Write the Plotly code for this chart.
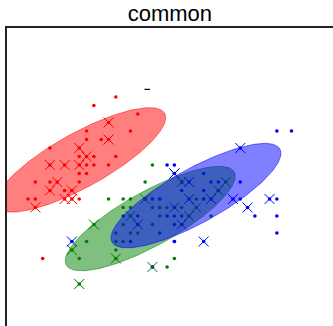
import numpy as np
import plotly.graph_objects as go

title_text = "common"
class_colors = ["#ff0000", "#008000", "#0000ff"]
ellipse_colors = ["rgba(255,0,0,0.5)", "rgba(0,128,0,0.5)", "rgba(0,0,255,0.5)"]

# all samples (dots)
red_x = [5.1, 4.9, 4.7, 4.6, 5.0, 5.4, 4.6, 5.0, 4.4, 4.9, 5.4, 4.8, 4.8, 4.3, 5.8, 5.7, 5.1, 5.4, 5.1,
         4.6, 5.1, 5.0, 5.2, 5.2, 4.8, 5.2, 5.5, 5.0, 5.5, 4.4, 5.1, 5.0, 4.5, 4.4, 4.6, 5.3, 5.0]
red_y = [3.5, 3.0, 3.2, 3.1, 3.6, 3.9, 3.4, 3.4, 2.9, 3.1, 3.7, 3.4, 3.0, 3.0, 4.0, 3.8, 3.8, 3.4, 3.7,
         3.6, 3.3, 3.0, 3.5, 3.4, 3.1, 4.1, 4.2, 3.2, 3.5, 3.0, 3.4, 3.5, 2.3, 3.2, 3.2, 3.7, 3.3]

green_x = [7.0, 6.4, 6.9, 5.5, 6.5, 5.7, 6.3, 4.9, 6.6, 5.2, 5.0, 5.9, 6.0, 6.1, 5.6, 6.7, 5.6, 5.8, 6.2,
           5.6, 5.9, 6.1, 6.3, 6.4, 6.6, 6.8, 6.7, 6.0, 5.7, 5.5, 6.0, 5.4, 6.0, 6.3, 6.1, 5.8, 5.0, 5.6,
           5.7, 5.7, 6.2, 5.1, 5.5, 5.5]
green_y = [3.2, 3.2, 3.1, 2.3, 2.8, 2.8, 3.3, 2.4, 2.9, 2.7, 2.0, 3.0, 2.2, 2.9, 2.9, 3.1, 3.0, 2.7, 2.2,
           2.5, 3.2, 2.8, 2.5, 2.9, 3.0, 2.8, 3.0, 2.9, 2.6, 2.4, 2.7, 3.0, 3.4, 2.3, 3.0, 2.6, 2.3, 2.7,
           3.0, 2.9, 2.9, 2.5, 2.5, 2.6]

blue_x = [6.3, 5.8, 7.1, 6.3, 6.5, 7.6, 4.9, 7.3, 6.7, 7.2, 6.5, 6.4, 6.8, 5.7, 5.8, 6.4, 7.7, 7.7, 6.0,
          6.9, 5.6, 7.7, 6.3, 6.7, 7.2, 6.2, 6.1, 6.4, 7.2, 7.4, 7.9, 6.3, 6.1, 7.7, 6.3, 6.4, 6.0, 6.9,
          6.7, 6.8, 6.7, 6.3, 6.2, 5.9]
blue_y = [3.3, 2.7, 3.0, 2.9, 3.0, 3.0, 2.5, 2.9, 2.5, 3.6, 3.2, 2.7, 3.0, 2.5, 2.8, 3.2, 3.8, 2.6, 2.2,
          3.2, 2.8, 2.8, 2.7, 3.3, 3.2, 2.8, 3.0, 2.8, 3.0, 2.8, 3.8, 2.8, 2.6, 3.0, 3.4, 3.1, 3.0, 3.1,
          3.1, 3.2, 3.0, 2.5, 3.4, 3.0]

# held-out samples (crosses)
red_test_x = [5.1, 4.9, 4.7, 4.6, 5.0, 5.4, 4.6, 5.0, 4.4, 4.9, 5.4, 4.8, 4.8]
red_test_y = [3.5, 3.0, 3.2, 3.1, 3.6, 3.9, 3.4, 3.4, 2.9, 3.1, 3.7, 3.4, 3.0]
green_test_x = [7.0, 6.4, 6.9, 5.5, 6.5, 5.7, 6.3, 4.9, 6.6, 5.2, 5.0, 5.9, 6.0]
green_test_y = [3.2, 3.2, 3.1, 2.3, 2.8, 2.8, 3.3, 2.4, 2.9, 2.7, 2.0, 3.0, 2.2]
blue_test_x = [6.3, 5.8, 7.1, 6.3, 6.5, 7.6, 4.9, 7.3, 6.7, 7.2, 6.5, 6.4, 6.8]
blue_test_y = [3.3, 2.7, 3.0, 2.9, 3.0, 3.0, 2.5, 2.9, 2.5, 3.6, 3.2, 2.7, 3.0]

# component means and shared (tied) covariance
mean_x = [5.02, 5.97, 6.595]
mean_y = [3.46, 2.77, 3.04]
cov_xx = 0.674
cov_xy = 0.289
cov_yy = 0.189

stray_x = [5.93]
stray_y = [4.29]

fig = go.Figure()

dots = [(red_x, red_y), (green_x, green_y), (blue_x, blue_y)]
tests = [(red_test_x, red_test_y), (green_test_x, green_test_y), (blue_test_x, blue_test_y)]

for (xs, ys), c in zip(dots, class_colors):
    fig.add_trace(go.Scatter(x=xs, y=ys, mode="markers",
                             marker=dict(size=3.6, color=c, line=dict(width=0)),
                             showlegend=False, hoverinfo="skip"))

for (xs, ys), c in zip(tests, class_colors):
    fig.add_trace(go.Scatter(x=xs, y=ys, mode="markers",
                             marker=dict(symbol="x-thin", size=10, color=c,
                                         line=dict(width=1, color=c)),
                             showlegend=False, hoverinfo="skip"))

fig.add_trace(go.Scatter(x=stray_x, y=stray_y, mode="markers",
                         marker=dict(symbol="line-ew", size=4, color="black",
                                     line=dict(width=1.2, color="black")),
                         showlegend=False, hoverinfo="skip"))

cov = np.array([[cov_xx, cov_xy], [cov_xy, cov_yy]])
vals, vecs = np.linalg.eigh(cov)
t = np.linspace(0, 2 * np.pi, 200)
circle = np.vstack([np.cos(t), np.sin(t)])
shape = vecs @ np.diag(np.sqrt(2.0 * vals)) @ circle

for mx, my, ec in zip(mean_x, mean_y, ellipse_colors):
    fig.add_trace(go.Scatter(x=mx + shape[0], y=my + shape[1], mode="lines",
                             fill="toself", fillcolor=ec,
                             line=dict(color=ec, width=1),
                             showlegend=False, hoverinfo="skip"))

fig.update_layout(
    width=333, height=326,
    margin=dict(l=7, r=0, t=28, b=0),
    plot_bgcolor="white", paper_bgcolor="white",
    title=dict(text=title_text, x=0.51, xanchor="center", y=0.958, yanchor="middle",
               font=dict(family="Liberation Sans, Arial, sans-serif", size=22, color="black")),
    xaxis=dict(range=[4.013, 8.467], side="top", showline=True, linecolor="#222", linewidth=2,
               showgrid=False, zeroline=False, showticklabels=False, ticks=""),
    yaxis=dict(range=[1.506, 5.012], showline=True, linecolor="#222", linewidth=2,
               showgrid=False, zeroline=False, showticklabels=False, ticks=""),
)

fig.write_html("out.html", config={"displayModeBar": False},
               post_script="document.body.style.margin='0';document.body.style.overflow='hidden';")
